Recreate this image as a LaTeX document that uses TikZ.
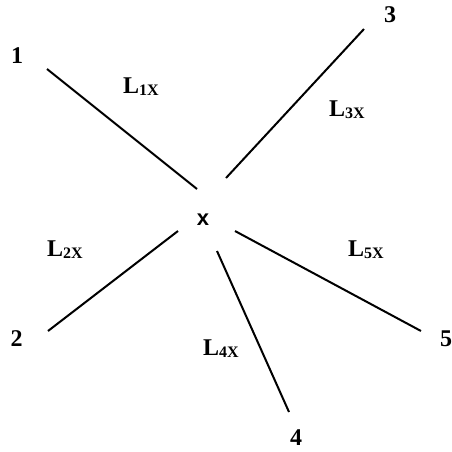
\documentclass[tikz,border=0pt]{standalone}
\usepackage{fontspec}
\setmainfont{Liberation Serif}
\newfontfamily\xsans{Liberation Sans}
\newcommand{\subsz}{\fontsize{16}{16}\selectfont}
\begin{document}
\begin{tikzpicture}[x=1pt,y=-1pt,
  lbl/.style={font=\bfseries\fontsize{24}{24}\selectfont, inner sep=0pt},
  edgelbl/.style={font=\bfseries\fontsize{24}{24}\selectfont, inner sep=0pt, anchor=base west},
  ctr/.style={font=\xsans\bfseries\fontsize{22}{22}\selectfont, inner sep=0pt},
  link/.style={line width=2pt}]
\useasboundingbox (0,0) rectangle (452,451);
% end labels
\node[lbl] (n1) at (17,56) {1};
\node[lbl] (n2) at (16.5,339) {2};
\node[lbl] (n3) at (390,15) {3};
\node[lbl] (n4) at (296,438) {4};
\node[lbl] (n5) at (446,339) {5};
\node[ctr] (x) at (203,220) {x};
% line ends
\coordinate (a1) at (47,69);   \coordinate (b1) at (197,189);
\coordinate (a3) at (364,29);  \coordinate (b3) at (226,178);
\coordinate (a2) at (48,331);  \coordinate (b2) at (178,231);
\coordinate (a4) at (289,412); \coordinate (b4) at (217,251);
\coordinate (a5) at (421,331); \coordinate (b5) at (235,231);
\draw[link] (a1) -- (b1);
\draw[link] (a3) -- (b3);
\draw[link] (a2) -- (b2);
\draw[link] (a4) -- (b4);
\draw[link] (a5) -- (b5);
% length labels
\node[edgelbl] (l1) at (123,93) {L\subsz\raisebox{-2pt}{1X}};
\node[edgelbl] (l3) at (329,116) {L\subsz\raisebox{-2pt}{3X}};
\node[edgelbl] (l2) at (47,256) {L\subsz\raisebox{-2pt}{2X}};
\node[edgelbl] (l4) at (203,355) {L\subsz\raisebox{-2pt}{4X}};
\node[edgelbl] (l5) at (348,256) {L\subsz\raisebox{-2pt}{5X}};
\end{tikzpicture}
\end{document}
